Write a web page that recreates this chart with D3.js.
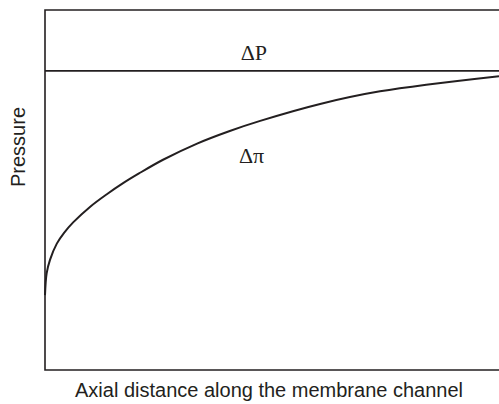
<!DOCTYPE html>
<html>
<head>
<meta charset="utf-8">
<script src="https://cdn.jsdelivr.net/npm/d3@7"></script>
<style>
  body { margin: 0; background: #fff; }
  svg { display: block; }
  .frame { stroke: #231f20; stroke-width: 1.6; fill: none; }
  .line { stroke: #231f20; stroke-width: 2; fill: none; }
</style>
</head>
<body>
<svg id="chart" width="499" height="404"></svg>
<script>
// axial distance (% of channel length) and osmotic pressure (arbitrary units)
const distance = [0, 0.37, 1.1, 2.6, 4.2, 6.2, 9.9, 13.7, 17.2, 20.7, 26.0, 33.5, 40.7, 47.4, 60.6, 73.8, 100];
const osmotic = [20.8, 26.9, 30.6, 35.1, 38.1, 41.0, 45.3, 48.9, 51.9, 54.6, 58.4, 62.9, 66.4, 69.2, 73.9, 77.4, 81.6];
const appliedP = 83.1;
const labels = { dP: "ΔP", dPi: "Δπ", x: "Axial distance along the membrane channel", y: "Pressure" };

const svg = d3.select("#chart");
const x = d3.scaleLinear().domain([0, 100]).range([45, 499]);
const y = d3.scaleLinear().domain([0, 100]).range([370, 10]);

const data = distance.map(function(d, i) { return { x: d, y: osmotic[i] }; });

// frame: left, top, bottom (right side runs off the page)
svg.append("path").attr("class", "frame")
   .attr("d", "M" + x(110) + "," + y(100) + "H" + x(0) + "V" + y(0) + "H" + x(110));

// applied pressure
svg.append("line").attr("class", "frame")
   .attr("x1", x(0)).attr("x2", x(110))
   .attr("y1", y(appliedP)).attr("y2", y(appliedP));

const line = d3.line()
   .x(function(d) { return x(d.x); })
   .y(function(d) { return y(d.y); })
   .curve(d3.curveCatmullRom.alpha(0.5));

svg.append("path").datum(data).attr("class", "line").attr("d", line);

svg.append("text").attr("x", x(46)).attr("y", 60)
   .attr("text-anchor", "middle").attr("font-family", "Liberation Serif, Times New Roman, serif")
   .attr("font-size", 22).attr("fill", "#231f20").text(labels.dP);

svg.append("text").attr("x", x(45.5)).attr("y", 163)
   .attr("text-anchor", "middle").attr("font-family", "Liberation Serif, Times New Roman, serif")
   .attr("font-size", 22).attr("fill", "#231f20").text(labels.dPi);

svg.append("text").attr("x", 269).attr("y", 397)
   .attr("text-anchor", "middle").attr("font-family", "Liberation Sans, Arial, sans-serif")
   .attr("font-size", 20).attr("fill", "#231f20").text(labels.x);

svg.append("text").attr("transform", "translate(25,147) rotate(-90)")
   .attr("text-anchor", "middle").attr("font-family", "Liberation Sans, Arial, sans-serif")
   .attr("font-size", 20).attr("fill", "#231f20").text(labels.y);
</script>
</body>
</html>
